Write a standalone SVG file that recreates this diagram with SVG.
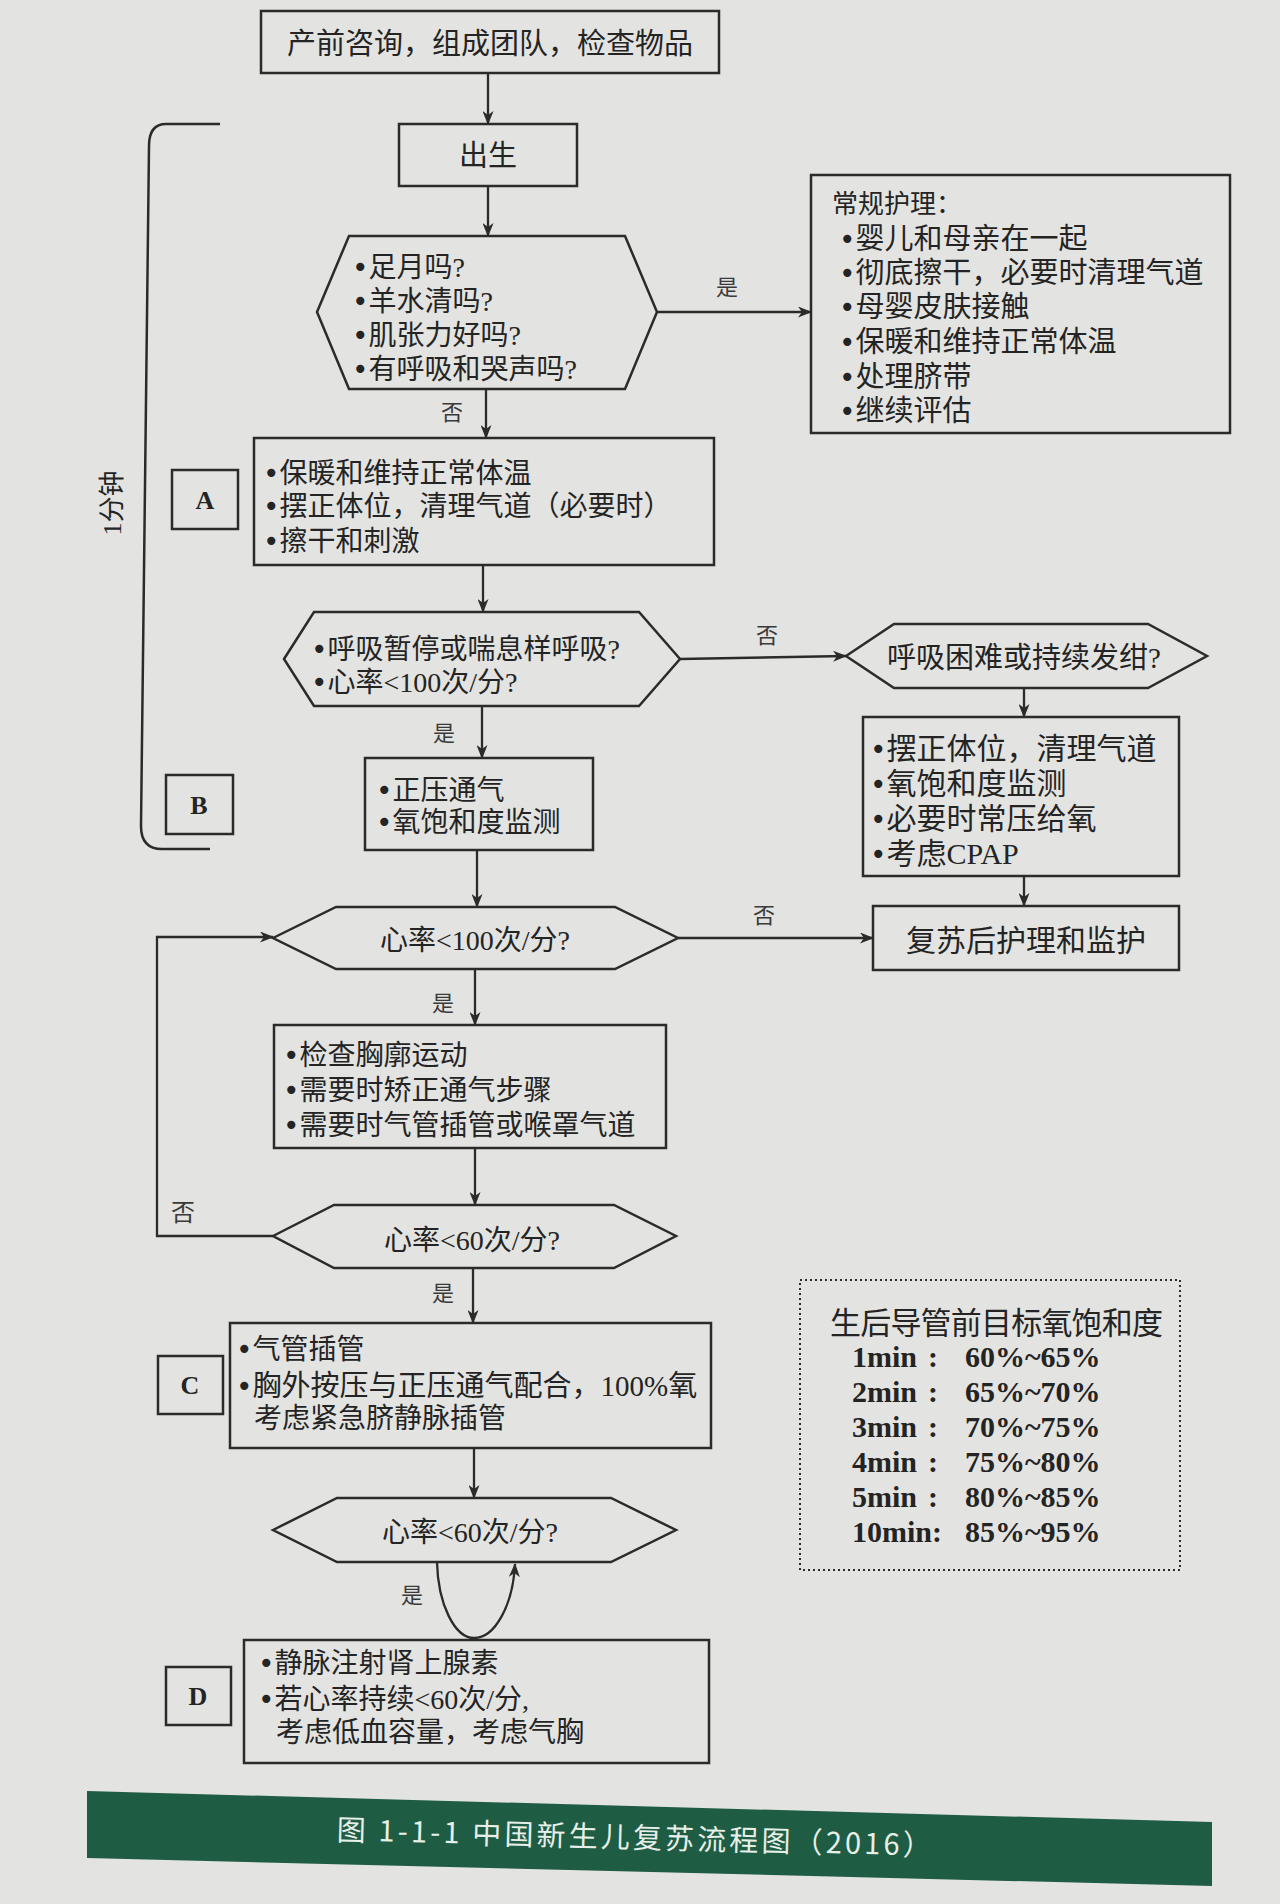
<svg xmlns="http://www.w3.org/2000/svg" width="1280" height="1904" viewBox="0 0 1280 1904">
<defs>
<style>
.bg{fill:#e3e3e1}
.box{fill:none;stroke:#2b2b2b;stroke-width:2.5}
.t{font-family:"Liberation Serif","Noto Sans CJK SC",serif;font-size:28px;fill:#242424}
.t30{font-size:30px}
.t29{font-size:29px}
.b{font-family:"DejaVu Sans",sans-serif;font-size:28px}
.lbl{font-family:"Noto Sans CJK SC",sans-serif;font-size:22px;fill:#3a3a3a}
.big{font-family:"Liberation Serif",serif;font-weight:bold;font-size:26px;fill:#242424}
.o2{font-family:"Liberation Serif",serif;font-weight:bold;font-size:30px;fill:#242424}
.con{fill:none;stroke:#2b2b2b;stroke-width:2.3;marker-end:url(#ah)}
.plain{fill:none;stroke:#2b2b2b;stroke-width:2.5}
</style>
<marker id="ah" viewBox="0 0 14 11" refX="13" refY="5.5" markerWidth="14" markerHeight="11" markerUnits="userSpaceOnUse" orient="auto">
<path d="M0,0 L14,5.5 L0,11 L4,5.5 z" fill="#2b2b2b"/>
</marker>
</defs>
<rect class="bg" x="0" y="0" width="1280" height="1904"/>

<g id="connectors">
<line class="con" x1="488" y1="73" x2="488" y2="124"/>
<line class="con" x1="488" y1="186" x2="488" y2="236"/>
<line class="con" x1="657" y1="312" x2="811" y2="312"/>
<line class="con" x1="486" y1="389" x2="486" y2="438"/>
<line class="con" x1="483" y1="565" x2="483" y2="612"/>
<line class="con" x1="680" y1="659" x2="846" y2="656"/>
<line class="con" x1="482" y1="706" x2="482" y2="758"/>
<line class="con" x1="1024" y1="688" x2="1024" y2="717"/>
<line class="con" x1="1024" y1="876" x2="1024" y2="906"/>
<line class="con" x1="477" y1="850" x2="477" y2="907"/>
<line class="con" x1="678" y1="938" x2="873" y2="938"/>
<line class="con" x1="475" y1="969" x2="475" y2="1025"/>
<line class="con" x1="475" y1="1148" x2="475" y2="1205"/>
<path class="con" d="M273,1236 L157,1236 L157,937 L273,937"/>
<line class="con" x1="473" y1="1268" x2="473" y2="1323"/>
<line class="con" x1="474" y1="1448" x2="474" y2="1498"/>
<path class="con" d="M437,1562 C438,1605 455,1638 474,1638 C495,1638 513,1605 515,1564"/>
<text class="lbl" x="727" y="295" text-anchor="middle">是</text>
<text class="lbl" x="452" y="420" text-anchor="middle">否</text>
<text class="lbl" x="767" y="643" text-anchor="middle">否</text>
<text class="lbl" x="444" y="741" text-anchor="middle">是</text>
<text class="lbl" x="764" y="923" text-anchor="middle">否</text>
<text class="lbl" x="443" y="1011" text-anchor="middle">是</text>
<text class="lbl" x="183" y="1221" text-anchor="middle" style="font-size:24px">否</text>
<text class="lbl" x="443" y="1301" text-anchor="middle">是</text>
<text class="lbl" x="412" y="1603" text-anchor="middle">是</text>
</g>

<g id="bracket">
<path class="plain" d="M220,124 L166,124 Q149,124 149,146 L141,826 Q141,849 162,849 L210,849"/>
<text class="t" transform="translate(121,503) rotate(-90)" text-anchor="middle" style="font-size:26px">1分钟</text>
</g>

<g id="n-prep">
<rect class="box" x="261" y="11" width="458" height="62"/>
<text class="t t29" x="490" y="54" text-anchor="middle">产前咨询，组成团队，检查物品</text>
</g>

<g id="n-birth">
<rect class="box" x="399" y="124" width="178" height="62"/>
<text class="t t29" x="488" y="166" text-anchor="middle">出生</text>
</g>

<g id="n-q1">
<polygon class="box" points="317,312 349,236 625,236 657,312 625,389 349,389"/>
<text class="t" x="352" y="277"><tspan class="b">•</tspan>足月吗?</text>
<text class="t" x="352" y="311"><tspan class="b">•</tspan>羊水清吗?</text>
<text class="t" x="352" y="345"><tspan class="b">•</tspan>肌张力好吗?</text>
<text class="t" x="352" y="379"><tspan class="b">•</tspan>有呼吸和哭声吗?</text>
</g>

<g id="n-routine">
<rect class="box" x="811" y="175" width="419" height="258"/>
<text class="t" x="832" y="213" style="font-size:26px">常规护理：</text>
<text class="t t29" x="839" y="249"><tspan class="b">•</tspan>婴儿和母亲在一起</text>
<text class="t t29" x="839" y="283"><tspan class="b">•</tspan>彻底擦干，必要时清理气道</text>
<text class="t t29" x="839" y="317"><tspan class="b">•</tspan>母婴皮肤接触</text>
<text class="t t29" x="839" y="352"><tspan class="b">•</tspan>保暖和维持正常体温</text>
<text class="t t29" x="839" y="387"><tspan class="b">•</tspan>处理脐带</text>
<text class="t t29" x="839" y="421"><tspan class="b">•</tspan>继续评估</text>
</g>

<g id="n-labelA">
<rect class="box" x="172" y="470" width="66" height="59"/>
<text class="big" x="205" y="509" text-anchor="middle">A</text>
</g>

<g id="n-stepA">
<rect class="box" x="254" y="438" width="460" height="127"/>
<text class="t" x="263" y="483"><tspan class="b">•</tspan>保暖和维持正常体温</text>
<text class="t" x="263" y="516"><tspan class="b">•</tspan>摆正体位，清理气道（必要时）</text>
<text class="t" x="263" y="551"><tspan class="b">•</tspan>擦干和刺激</text>
</g>

<g id="n-q2">
<polygon class="box" points="284,659 314,612 639,612 680,659 639,706 314,706"/>
<text class="t" x="311" y="659"><tspan class="b">•</tspan>呼吸暂停或喘息样呼吸?</text>
<text class="t" x="311" y="692"><tspan class="b">•</tspan>心率&lt;100次/分?</text>
</g>

<g id="n-q3">
<polygon class="box" points="846,656 894,624 1148,624 1207,656 1148,688 894,688"/>
<text class="t t29" x="1024" y="668" text-anchor="middle">呼吸困难或持续发绀?</text>
</g>

<g id="n-labelB">
<rect class="box" x="166" y="775" width="67" height="59"/>
<text class="big" x="199" y="814" text-anchor="middle">B</text>
</g>

<g id="n-stepB">
<rect class="box" x="365" y="758" width="228" height="92"/>
<text class="t" x="376" y="800"><tspan class="b">•</tspan>正压通气</text>
<text class="t" x="376" y="832"><tspan class="b">•</tspan>氧饱和度监测</text>
</g>

<g id="n-cpap">
<rect class="box" x="863" y="717" width="316" height="159"/>
<text class="t t30" x="870" y="759"><tspan class="b">•</tspan>摆正体位，清理气道</text>
<text class="t t30" x="870" y="794"><tspan class="b">•</tspan>氧饱和度监测</text>
<text class="t t30" x="870" y="829"><tspan class="b">•</tspan>必要时常压给氧</text>
<text class="t t30" x="870" y="864"><tspan class="b">•</tspan>考虑CPAP</text>
</g>

<g id="n-post">
<rect class="box" x="873" y="906" width="306" height="64"/>
<text class="t t30" x="1026" y="951" text-anchor="middle">复苏后护理和监护</text>
</g>

<g id="n-q4">
<polygon class="box" points="273,938 336,907 615,907 678,938 615,969 336,969"/>
<text class="t" x="475" y="950" text-anchor="middle">心率&lt;100次/分?</text>
</g>

<g id="n-check">
<rect class="box" x="274" y="1025" width="392" height="123"/>
<text class="t" x="283" y="1065"><tspan class="b">•</tspan>检查胸廓运动</text>
<text class="t" x="283" y="1100"><tspan class="b">•</tspan>需要时矫正通气步骤</text>
<text class="t" x="283" y="1135"><tspan class="b">•</tspan>需要时气管插管或喉罩气道</text>
</g>

<g id="n-q5">
<polygon class="box" points="273,1236 334,1205 614,1205 676,1236 614,1268 334,1268"/>
<text class="t" x="472" y="1250" text-anchor="middle">心率&lt;60次/分?</text>
</g>

<g id="n-labelC">
<rect class="box" x="158" y="1356" width="65" height="58"/>
<text class="big" x="190" y="1394" text-anchor="middle">C</text>
</g>

<g id="n-stepC">
<rect class="box" x="230" y="1323" width="481" height="125"/>
<text class="t" x="236" y="1359"><tspan class="b">•</tspan>气管插管</text>
<text class="t t29" x="236" y="1396"><tspan class="b">•</tspan>胸外按压与正压通气配合，100%氧</text>
<text class="t" x="254" y="1428">考虑紧急脐静脉插管</text>
</g>

<g id="n-q6">
<polygon class="box" points="273,1530 337,1498 611,1498 676,1530 611,1562 337,1562"/>
<text class="t" x="470" y="1542" text-anchor="middle">心率&lt;60次/分?</text>
</g>

<g id="n-labelD">
<rect class="box" x="166" y="1667" width="65" height="58"/>
<text class="big" x="198" y="1705" text-anchor="middle">D</text>
</g>

<g id="n-stepD">
<rect class="box" x="244" y="1640" width="465" height="123"/>
<text class="t" x="258" y="1673"><tspan class="b">•</tspan>静脉注射肾上腺素</text>
<text class="t" x="258" y="1709"><tspan class="b">•</tspan>若心率持续&lt;60次/分,</text>
<text class="t" x="276" y="1742">考虑低血容量，考虑气胸</text>
</g>

<g id="n-o2table">
<rect x="800" y="1280" width="380" height="290" fill="none" stroke="#2b2b2b" stroke-width="2" stroke-dasharray="2 3"/>
<text x="830" y="1334" textLength="333" lengthAdjust="spacing" style="font-family:'Noto Sans CJK SC',sans-serif;font-size:31px;fill:#242424">生后导管前目标氧饱和度</text>
<text class="o2" x="852" y="1367">1min</text><text class="o2" x="933" y="1367" text-anchor="middle">:</text><text class="o2" x="965" y="1367">60%~65%</text>
<text class="o2" x="852" y="1402">2min</text><text class="o2" x="933" y="1402" text-anchor="middle">:</text><text class="o2" x="965" y="1402">65%~70%</text>
<text class="o2" x="852" y="1437">3min</text><text class="o2" x="933" y="1437" text-anchor="middle">:</text><text class="o2" x="965" y="1437">70%~75%</text>
<text class="o2" x="852" y="1472">4min</text><text class="o2" x="933" y="1472" text-anchor="middle">:</text><text class="o2" x="965" y="1472">75%~80%</text>
<text class="o2" x="852" y="1507">5min</text><text class="o2" x="933" y="1507" text-anchor="middle">:</text><text class="o2" x="965" y="1507">80%~85%</text>
<text class="o2" x="852" y="1542">10min:</text><text class="o2" x="965" y="1542">85%~95%</text>
</g>

<g id="caption">
<polygon points="87,1791 1212,1822 1212,1886 87,1858" fill="#1f5c44"/>
<text transform="translate(634,1848) rotate(1.5)" text-anchor="middle" textLength="595" lengthAdjust="spacing" style="font-family:'Noto Sans CJK SC',sans-serif;font-size:29px;fill:#e6efe8">图 1-1-1   中国新生儿复苏流程图（2016）</text>
</g>
</svg>
